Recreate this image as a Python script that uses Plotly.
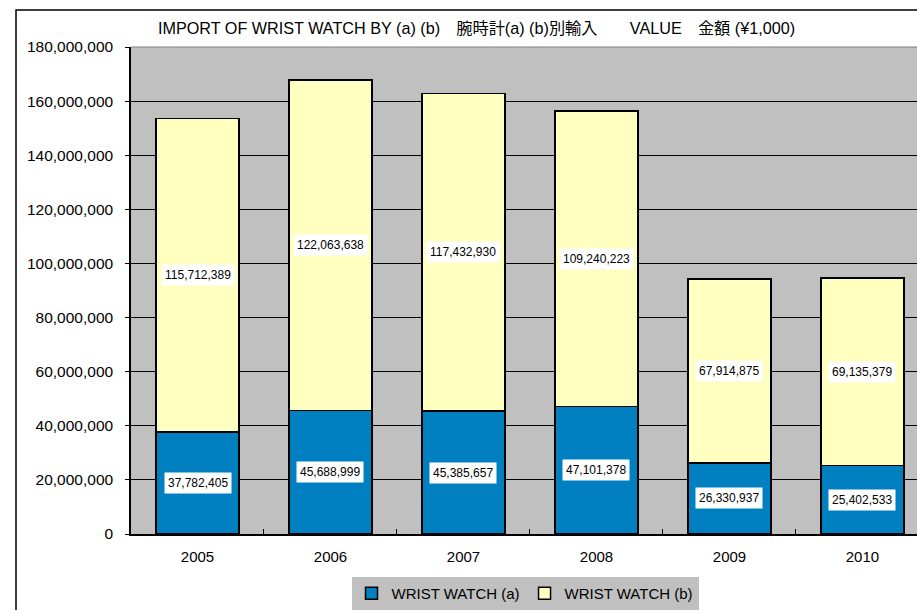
import plotly.graph_objects as go

# ---------------------------------------------------------------------------
# Data (¥1,000)
# ---------------------------------------------------------------------------
years = ["2005", "2006", "2007", "2008", "2009", "2010"]
watch_a = [37782405, 45688999, 45385657, 47101378, 26330937, 25402533]
watch_b = [115712389, 122063638, 117432930, 109240223, 67914875, 69135379]
y_ticks = list(range(0, 180000001, 20000000))

TITLE = "IMPORT OF WRIST WATCH BY (a) (b)\u3000腕時計(a) (b)別輸入\u3000\u3000VALUE\u3000金額 (¥1,000)"
FONT = "Liberation Sans, Arial, Noto Sans CJK JP, sans-serif"

# page geometry (pixels) -> paper coords
W, H = 917, 610
PL, PR, PT, PB = 131, 917, 47, 535


def px_x(x):
    return (x - PL) / (PR - PL)


def px_y(y):
    return (PB - y) / (PB - PT)


fig = go.Figure()

fig.add_trace(go.Bar(
    x=years, y=watch_a, name="WRIST WATCH (a)",
    marker=dict(color="#0080C0", line=dict(color="black", width=1.5)),
    width=0.625,
))
fig.add_trace(go.Bar(
    x=years, y=watch_b, name="WRIST WATCH (b)",
    marker=dict(color="#FFFFC0", line=dict(color="black", width=1.5)),
    width=0.625,
))

# value labels in white boxes, centred on each segment
annotations = []
for i, (a, b) in enumerate(zip(watch_a, watch_b)):
    for val, mid in ((a, a / 2), (b, a + b / 2)):
        annotations.append(dict(
            x=i, y=mid, xref="x", yref="y",
            text=f"{val:,}", showarrow=False,
            bgcolor="white", borderpad=3,
            font=dict(size=12, color="black", family=FONT),
        ))

annotations.append(dict(
    x=px_x(476), y=px_y(28), xref="paper", yref="paper",
    text=TITLE, showarrow=False, xanchor="center", yanchor="middle",
    font=dict(size=16.2, color="black", family=FONT),
))

shapes = [
    # outer chart border (left and top visible)
    dict(type="rect", xref="paper", yref="paper",
         x0=px_x(16), x1=px_x(940), y0=px_y(640), y1=px_y(10),
         line=dict(color="black", width=1.5), layer="below"),
    # lighter top edge of plot area
    dict(type="line", xref="paper", yref="paper",
         x0=0, x1=1, y0=1, y1=1, line=dict(color="#808080", width=1)),
]

fig.update_layout(
    width=W, height=H,
    barmode="stack",
    paper_bgcolor="white",
    plot_bgcolor="#C0C0C0",
    font=dict(family=FONT, size=15, color="black"),
    margin=dict(l=PL, r=W - PR, t=PT, b=H - PB, pad=0),
    showlegend=True,
    legend=dict(
        orientation="h", x=px_x(525), y=px_y(595),
        xanchor="center", yanchor="middle",
        bgcolor="#C0C0C0", borderwidth=0, traceorder="normal",
        itemwidth=30,
        font=dict(size=15, family=FONT),
    ),
    xaxis=dict(
        type="category", range=[-0.5, 5.41],
        showline=True, linecolor="black", linewidth=2,
        ticks="inside", tickson="boundaries", ticklen=5, tickcolor="black",
        showgrid=False, tickfont=dict(size=15), ticklabelstandoff=8,
    ),
    yaxis=dict(
        range=[0, 180000000], tickvals=y_ticks, tickformat=",",
        showline=True, linecolor="black", linewidth=1.5,
        ticks="outside", ticklen=4, tickcolor="black",
        gridcolor="black", gridwidth=1, zeroline=False,
        tickfont=dict(size=15.5), ticklabelstandoff=9,
    ),
    annotations=annotations,
    shapes=shapes,
)

fig.write_html("out.html", config={"displayModeBar": False},
               post_script="document.body.style.margin='0';")
